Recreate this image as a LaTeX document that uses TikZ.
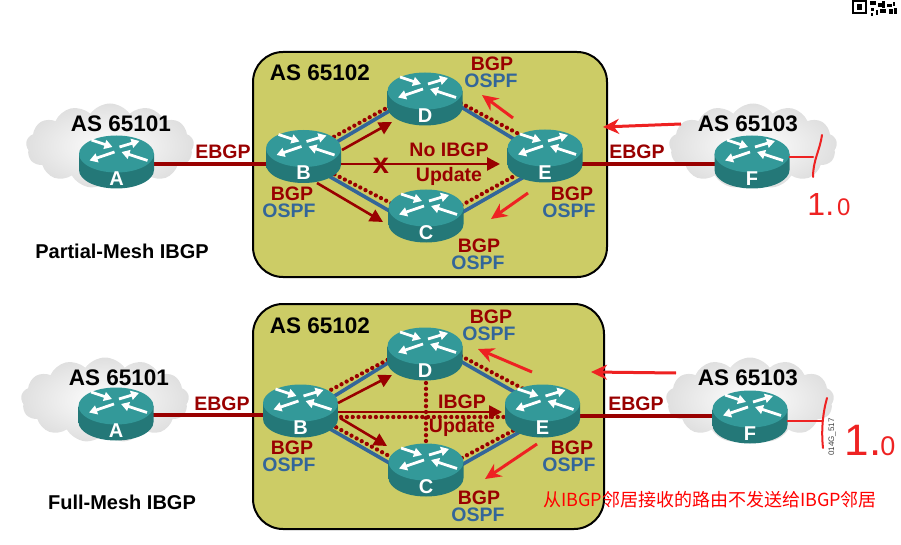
\documentclass[tikz,border=0pt]{standalone}
\usepackage{fontspec}
\setmainfont{Liberation Sans}
\newfontfamily\cjk{Noto Sans CJK SC}
\usetikzlibrary{arrows.meta,shapes.symbols}
\definecolor{asfill}{HTML}{CCCC66}
\definecolor{bgpred}{HTML}{990000}
\definecolor{ospfblue}{HTML}{336699}
\definecolor{routertop}{HTML}{339999}
\definecolor{routerdark}{HTML}{247878}
\definecolor{markred}{HTML}{EE2222}
\tikzset{
	routernode/.style = {minimum width=75pt, minimum height=53pt, inner sep=0pt},
	asbox/.style = {draw=black, line width=2pt, fill=asfill, rounded corners=30pt},
	asname/.style = {inner sep=0pt, font=\bfseries\fontsize{22.5}{22.5}\selectfont},
	cloudnode/.style = {cloud, cloud puffs=13, cloud puff arc=110, aspect=2, minimum width=168pt, minimum height=85pt, inner sep=0pt, shading=radial, inner color=white, outer color=gray!25},
	bgplabel/.style = {inner sep=0pt, text=bgpred, font=\bfseries\fontsize{19.5}{19.5}\selectfont},
	ospflabel/.style = {inner sep=0pt, text=ospfblue, font=\bfseries\fontsize{19.5}{19.5}\selectfont},
	meshlabel/.style = {inner sep=0pt, font=\bfseries\fontsize{20}{20}\selectfont},
	bluelink/.style = {ospfblue, line width=3.6pt},
	dotlink/.style = {bgpred, line width=4.3pt, line cap=round, dash pattern=on 0pt off 5.8pt},
	ebgplink/.style = {bgpred, line width=4pt},
	update/.style = {bgpred, line width=2.6pt, -{Triangle[length=13pt,width=13pt]}},
	redarrow/.style = {markred, line width=3pt, -{Stealth[length=16pt,width=15pt]}},
	handmark/.style = {markred, line width=2pt, line cap=round},
	handtext/.style = {text=markred, inner sep=0pt},
	routerarrow/.style = {white, line width=2.8pt, -{Triangle[length=8pt,width=9pt]}}
}
\newcommand{\router}[2]{
	\begin{scope}[shift={(#1.center)}, x=1pt, y=1pt]
		\shade[left color=routerdark, middle color=routertop, right color=routerdark] (-37.5,8) -- (-37.5,-8) arc (180:360:37.5 and 18.5) -- (37.5,8) -- cycle;
		\fill[routertop] (0,8) ellipse (37.5 and 18.5);
		\draw[routerarrow] (-25,22) -- (-4,15);
		\draw[routerarrow] (3,15) -- (23,21);
		\draw[routerarrow] (-2,10) -- (-27,1.5);
		\draw[routerarrow] (31,1.5) -- (5,10);
		\node (#1-name) [text=white, font=\bfseries\fontsize{20}{20}\selectfont, inner sep=0pt] at (0,-16.5) {#2};
	\end{scope}
}
\begin{document}
\begin{tikzpicture}[x=1pt, y=-1pt]
	\useasboundingbox (0,0) rectangle (901,545);
	% scrap of the code at the top edge
	\draw[line width=2pt] (853,1) rectangle (866,13);
	\fill (857,4) rectangle (862,10);
	\foreach \x/\y/\w/\h in {870/1/6/4, 871/8/3/3, 871/13/2/3, 878/3/4/4, 882/1/3/7, 880/9/6/4, 887/4/5/3, 889/9/4/5, 893/2/2/4, 894/8/3/6, 876/10/2/5}
		\fill (\x,\y) rectangle ++(\w,\h);
	% areas
	\draw[asbox] (253,52) rectangle (607,277);
	\draw[asbox] (253,304) rectangle (604,529);
	\node (cloudA1) [cloudnode] at (110,146) {};
	\node (cloudF1) [cloudnode] at (753,146) {};
	\node (cloudA2) [cloudnode] at (105,400) {};
	\node (cloudF2) [cloudnode] at (750,400) {};
	% routers go down first so that the links can name them
	\foreach \n/\x/\y in {A1/116.5/162, B1/303.5/156.5, C1/426/216, D1/425/99, E1/545/156, F1/752/162, A2/116/414, B2/300.5/411, C2/426/470, D2/425/354, E2/542.5/411, F2/750/417}
		\node (\n) [routernode] at (\x,\y) {};
	% partial mesh
	\draw[ebgplink] ([yshift=-2pt]A1.center) -- ([yshift=-7.5pt]B1.center);
	\draw[ebgplink] ([yshift=-8pt]E1.center) -- ([yshift=-2pt]F1.center);
	\draw[bluelink] ([yshift=-5pt]B1.center) -- ([yshift=9pt]D1.center);
	\draw[bluelink] ([yshift=14pt]D1.center) -- ([yshift=-2pt]E1.center);
	\draw[bluelink] ([yshift=-5pt]B1.center) -- ([yshift=-16pt]C1.center);
	\draw[bluelink] ([yshift=-17pt]C1.center) -- ([yshift=-9pt]E1.center);
	\draw[dotlink] ([yshift=3pt]B1.center) -- ([yshift=12pt]D1.center);
	\draw[dotlink] ([yshift=15pt]D1.center) -- ([yshift=8pt]E1.center);
	\draw[dotlink] ([yshift=-2pt]B1.center) -- ([yshift=-5pt]C1.center);
	\draw[dotlink] ([yshift=-9pt]C1.center) -- ([yshift=-3pt]E1.center);
	% full mesh
	\draw[ebgplink] ([yshift=-1pt]A2.center) -- ([yshift=-4pt]B2.center);
	\draw[ebgplink] ([yshift=-5pt]E2.center) -- ([yshift=1pt]F2.center);
	\draw[bluelink] ([yshift=-6pt]B2.center) -- ([yshift=14pt]D2.center);
	\draw[bluelink] ([yshift=13pt]D2.center) -- ([yshift=3pt]E2.center);
	\draw[bluelink] ([yshift=-1pt]B2.center) -- ([yshift=-14pt]C2.center);
	\draw[bluelink] ([yshift=-15pt]C2.center) -- ([yshift=-8pt]E2.center);
	\draw[dotlink] ([yshift=5pt]B2.center) -- ([yshift=14pt]D2.center);
	\draw[dotlink] ([yshift=17pt]D2.center) -- ([yshift=12pt]E2.center);
	\draw[dotlink] ([yshift=3pt]B2.center) -- ([yshift=-6pt]C2.center);
	\draw[dotlink] ([yshift=-7pt]C2.center) -- ([yshift=-4pt]E2.center);
	\draw[dotlink] ([yshift=-6pt]B2.center) -- ([yshift=-6pt]E2.center);
	\draw[dotlink] ([xshift=1pt]D2.center) -- (C2.center);
	% the routers themselves
	\router{A1}{A} \router{B1}{B} \router{C1}{C} \router{D1}{D} \router{E1}{E} \router{F1}{F}
	\router{A2}{A} \router{B2}{B} \router{C2}{C} \router{D2}{D} \router{E2}{E} \router{F2}{F}
	% update arrows
	\draw[update] ([xshift=38.5pt,yshift=6.5pt]B1.center) -- ([xshift=-33pt,yshift=-23pt]D1.center);
	\draw[update] ([xshift=37.5pt,yshift=-7.5pt]B1.center) -- ([xshift=-45pt,yshift=-8pt]E1.center);
	\draw[update] ([xshift=13.5pt,yshift=-26.5pt]B1.center) -- ([xshift=-43pt,yshift=-6pt]C1.center);
	\draw[update] ([xshift=37.5pt,yshift=8pt]B2.center) -- ([xshift=-33pt,yshift=-21pt]D2.center);
	\draw[update] ([xshift=37.5pt,yshift=-1pt]B2.center) -- ([xshift=-40.5pt,yshift=-1pt]E2.center);
	\draw[update] ([xshift=39.5pt,yshift=-7pt]B2.center) -- ([xshift=-39pt,yshift=24pt]C2.center);
	% red arrows added on top
	\coordinate (redA) at (513,118); \coordinate (redAtip) at (482,95);
	\coordinate (redB) at (528,193); \coordinate (redBtip) at (491,219);
	\coordinate (redC) at (681,124); \coordinate (redCtip) at (603,127);
	\coordinate (redD) at (532,372); \coordinate (redDtip) at (478,349);
	\coordinate (redE) at (537,444); \coordinate (redEtip) at (485,479);
	\coordinate (redF) at (676,373); \coordinate (redFtip) at (591,372);
	\foreach \n in {redA, redB, redC, redD, redE, redF}
		\draw[redarrow] (\n) -- (\n tip);
	% labels
	\node (as102a) [asname] at (320,73) {AS 65102};
	\node (as101a) [asname] at (121,124) {AS 65101};
	\node (as103a) [asname] at (748,124) {AS 65103};
	\node (ebgp1a) [bgplabel] at (223,152) {EBGP};
	\node (ebgp2a) [bgplabel] at (637,152) {EBGP};
	\node (bgpDa) [bgplabel] at (492,64) {BGP};
	\node (ospfDa) [ospflabel] at (491,81) {OSPF};
	\node (bgpBa) [bgplabel] at (292,194) {BGP};
	\node (ospfBa) [ospflabel] at (289,211) {OSPF};
	\node (bgpEa) [bgplabel] at (572,194) {BGP};
	\node (ospfEa) [ospflabel] at (569,211) {OSPF};
	\node (bgpCa) [bgplabel] at (479,246) {BGP};
	\node (ospfCa) [ospflabel] at (478,263) {OSPF};
	\node (noibgp) [bgplabel] at (449,150) {No IBGP};
	\node (updatea) [bgplabel] at (449,176) {Update};
	\node (crossa) [text=bgpred, font=\bfseries\fontsize{29}{29}\selectfont, inner sep=0pt] at (381,166) {x};
	\node (partial) [meshlabel] at (122,251) {Partial-Mesh IBGP};
	\node (as102b) [asname] at (320,326) {AS 65102};
	\node (as101b) [asname] at (119,378) {AS 65101};
	\node (as103b) [asname] at (748,378) {AS 65103};
	\node (ebgp1b) [bgplabel] at (222,404) {EBGP};
	\node (ebgp2b) [bgplabel] at (636,404) {EBGP};
	\node (bgpDb) [bgplabel] at (491,317) {BGP};
	\node (ospfDb) [ospflabel] at (489,334) {OSPF};
	\node (bgpBb) [bgplabel] at (292,448) {BGP};
	\node (ospfBb) [ospflabel] at (289,465) {OSPF};
	\node (bgpEb) [bgplabel] at (572,448) {BGP};
	\node (ospfEb) [ospflabel] at (569,465) {OSPF};
	\node (bgpCb) [bgplabel] at (479,498) {BGP};
	\node (ospfCb) [ospflabel] at (478,515) {OSPF};
	\node (ibgp) [bgplabel] at (462,402) {IBGP};
	\node (updateb) [bgplabel] at (462,427) {Update};
	\node (full) [meshlabel] at (122,502) {Full-Mesh IBGP};
	\node (figcode) [rotate=90, text=black!75, font=\fontsize{8}{8}\selectfont, inner sep=0pt] at (832,437) {014G\_517};
	\node (chinese) [text=red, font=\cjk\fontsize{18}{18}\selectfont, inner sep=0pt] at (710,500) {从IBGP邻居接收的路由不发送给IBGP邻居};
	% hand marks
	\draw[handmark] ([yshift=5pt]F1.east) -- (813,157);
	\draw[handmark] (822,135) .. controls (820,150) and (813,160) .. (813,177);
	\draw[handmark] ([yshift=-4pt]F2.east) -- (822,421);
	\draw[handmark] (827,398) .. controls (823,412) and (821,430) .. (823,448);
	\node (handa) [handtext] at (829,205) {\fontsize{32}{32}\selectfont 1.\kern3pt\fontsize{24}{24}\selectfont 0};
	\node (handb) [handtext] at (870,440) {\fontsize{44}{44}\selectfont 1.\kern-1pt\fontsize{27}{27}\selectfont 0};
\end{tikzpicture}
\end{document}
